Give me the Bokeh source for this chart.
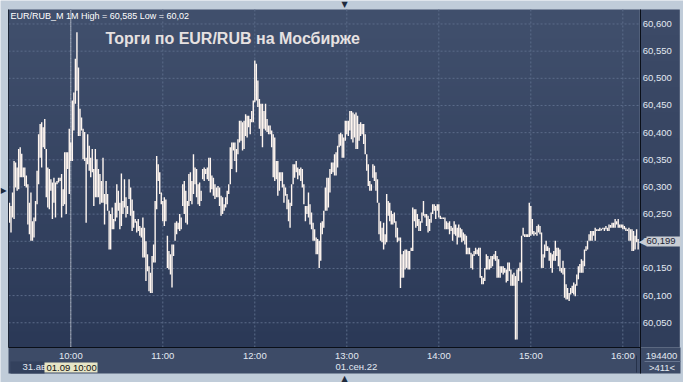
import numpy as np
import pandas as pd
from bokeh.plotting import figure
from bokeh.models import (Range1d, FixedTicker, DatetimeTickFormatter, CustomJSTickFormatter,
                          Label, BoxAnnotation, ColumnDataSource)
from bokeh.embed import file_html
from bokeh.resources import INLINE

# ---------------- data (1-minute bars, EUR/RUB, 01.09.2022) ----------------
start_time = "2022-09-01 09:20"
highs = [
    60.271, 60.265, 60.290, 60.348, 60.345, 60.336, 60.370, 60.373, 60.361, 60.336,
    60.336, 60.321, 60.305, 60.271, 60.290, 60.237, 60.244, 60.274, 60.330, 60.397,
    60.416, 60.419, 60.410, 60.425, 60.370, 60.336, 60.333, 60.314, 60.308, 60.317,
    60.308, 60.311, 60.317, 60.317, 60.324, 60.296, 60.364, 60.364, 60.364, 60.407,
    60.382, 60.459, 60.474, 60.536, 60.585, 60.520, 60.444, 60.428, 60.407, 60.401,
    60.354, 60.397, 60.376, 60.354, 60.370, 60.333, 60.370, 60.351, 60.333, 60.324,
    60.311, 60.354, 60.287, 60.311, 60.287, 60.256, 60.250, 60.262, 60.241, 60.271,
    60.305, 60.293, 60.271, 60.325, 60.274, 60.314, 60.281, 60.265, 60.314, 60.299,
    60.277, 60.256, 60.241, 60.237, 60.241, 60.228, 60.225, 60.244, 60.225, 60.200,
    60.176, 60.154, 60.142, 60.173, 60.194, 60.274, 60.357, 60.342, 60.327, 60.290,
    60.274, 60.281, 60.277, 60.210, 60.182, 60.176, 60.194, 60.194, 60.234, 60.237,
    60.234, 60.250, 60.244, 60.305, 60.311, 60.293, 60.274, 60.324, 60.327, 60.311,
    60.360, 60.336, 60.333, 60.305, 60.308, 60.293, 60.333, 60.336, 60.333, 60.336,
    60.354, 60.354, 60.321, 60.317, 60.305, 60.299, 60.302, 60.299, 60.284, 60.281,
    60.268, 60.281, 60.293, 60.305, 60.373, 60.382, 60.382, 60.382, 60.370, 60.388,
    60.422, 60.422, 60.419, 60.422, 60.434, 60.431, 60.431, 60.425, 60.440, 60.459,
    60.533, 60.527, 60.496, 60.462, 60.453, 60.453, 60.440, 60.453, 60.425, 60.413,
    60.413, 60.404, 60.397, 60.391, 60.348, 60.348, 60.327, 60.327, 60.327, 60.305,
    60.299, 60.287, 60.277, 60.271, 60.305, 60.342, 60.342, 60.348, 60.336, 60.333,
    60.336, 60.333, 60.305, 60.265, 60.265, 60.290, 60.268, 60.253, 60.234, 60.222,
    60.207, 60.204, 60.201, 60.234, 60.237, 60.256, 60.299, 60.317, 60.317, 60.333,
    60.345, 60.345, 60.360, 60.364, 60.376, 60.397, 60.400, 60.397, 60.391, 60.422,
    60.422, 60.422, 60.440, 60.440, 60.437, 60.434, 60.437, 60.431, 60.416, 60.419,
    60.416, 60.416, 60.397, 60.360, 60.342, 60.311, 60.305, 60.342, 60.339, 60.327,
    60.314, 60.271, 60.237, 60.225, 60.234, 60.213, 60.287, 60.274, 60.271, 60.256,
    60.250, 60.253, 60.237, 60.225, 60.207, 60.207, 60.176, 60.182, 60.185, 60.185,
    60.182, 60.182, 60.188, 60.262, 60.259, 60.259, 60.250, 60.241, 60.237, 60.253,
    60.274, 60.250, 60.250, 60.247, 60.241, 60.253, 60.268, 60.268, 60.265, 60.268,
    60.268, 60.247, 60.244, 60.244, 60.244, 60.237, 60.234, 60.237, 60.228, 60.225,
    60.237, 60.231, 60.225, 60.231, 60.225, 60.222, 60.216, 60.213, 60.210, 60.188,
    60.188, 60.179, 60.176, 60.182, 60.188, 60.185, 60.188, 60.188, 60.136, 60.133,
    60.151, 60.176, 60.173, 60.167, 60.173, 60.173, 60.176, 60.182, 60.173, 60.167,
    60.154, 60.154, 60.154, 60.151, 60.148, 60.161, 60.161, 60.148, 60.139, 60.142,
    60.136, 60.148, 60.151, 60.161, 60.210, 60.225, 60.213, 60.213, 60.213, 60.271,
    60.265, 60.241, 60.219, 60.216, 60.228, 60.231, 60.228, 60.216, 60.176, 60.194,
    60.201, 60.191, 60.188, 60.179, 60.176, 60.182, 60.201, 60.188, 60.188, 60.185,
    60.151, 60.164, 60.151, 60.121, 60.114, 60.105, 60.114, 60.118, 60.124, 60.121,
    60.139, 60.154, 60.158, 60.167, 60.164, 60.185, 60.191, 60.201, 60.213, 60.219,
    60.219, 60.219, 60.225, 60.222, 60.222, 60.225, 60.223, 60.225, 60.225, 60.228,
    60.225, 60.231, 60.230, 60.234, 60.234, 60.241, 60.237, 60.241, 60.231, 60.231,
    60.231, 60.228, 60.225, 60.222, 60.225, 60.222, 60.222, 60.219, 60.210, 60.222,
    60.204,
]
lows = [
    60.234, 60.216, 60.244, 60.241, 60.299, 60.293, 60.296, 60.318, 60.318, 60.318,
    60.302, 60.299, 60.231, 60.213, 60.201, 60.201, 60.207, 60.237, 60.268, 60.305,
    60.354, 60.336, 60.373, 60.370, 60.281, 60.262, 60.259, 60.293, 60.241, 60.271,
    60.244, 60.305, 60.308, 60.311, 60.244, 60.265, 60.268, 60.250, 60.333, 60.287,
    60.348, 60.348, 60.404, 60.453, 60.477, 60.394, 60.394, 60.404, 60.351, 60.348,
    60.234, 60.342, 60.330, 60.318, 60.327, 60.265, 60.281, 60.281, 60.281, 60.268,
    60.271, 60.271, 60.231, 60.268, 60.256, 60.185, 60.185, 60.222, 60.222, 60.237,
    60.244, 60.256, 60.222, 60.228, 60.250, 60.262, 60.244, 60.250, 60.278, 60.247,
    60.219, 60.225, 60.234, 60.216, 60.219, 60.210, 60.207, 60.170, 60.170, 60.127,
    60.145, 60.108, 60.105, 60.105, 60.161, 60.161, 60.259, 60.311, 60.287, 60.268,
    60.237, 60.228, 60.237, 60.151, 60.148, 60.139, 60.115, 60.173, 60.201, 60.213,
    60.222, 60.219, 60.222, 60.265, 60.250, 60.234, 60.231, 60.265, 60.274, 60.268,
    60.287, 60.305, 60.281, 60.268, 60.265, 60.274, 60.314, 60.311, 60.324, 60.314,
    60.311, 60.290, 60.296, 60.284, 60.278, 60.281, 60.281, 60.265, 60.247, 60.250,
    60.256, 60.262, 60.268, 60.287, 60.305, 60.333, 60.367, 60.348, 60.327, 60.360,
    60.382, 60.385, 60.367, 60.370, 60.394, 60.391, 60.410, 60.397, 60.419, 60.419,
    60.456, 60.459, 60.447, 60.407, 60.394, 60.373, 60.407, 60.404, 60.401, 60.397,
    60.397, 60.373, 60.318, 60.311, 60.314, 60.284, 60.293, 60.311, 60.299, 60.271,
    60.284, 60.259, 60.237, 60.225, 60.265, 60.305, 60.317, 60.327, 60.314, 60.321,
    60.311, 60.299, 60.268, 60.237, 60.250, 60.244, 60.231, 60.222, 60.201, 60.201,
    60.176, 60.176, 60.151, 60.164, 60.213, 60.225, 60.256, 60.256, 60.262, 60.290,
    60.324, 60.327, 60.321, 60.321, 60.336, 60.373, 60.376, 60.354, 60.354, 60.385,
    60.397, 60.394, 60.404, 60.388, 60.382, 60.391, 60.370, 60.370, 60.385, 60.394,
    60.397, 60.379, 60.360, 60.330, 60.302, 60.293, 60.293, 60.317, 60.311, 60.293,
    60.271, 60.213, 60.201, 60.198, 60.185, 60.194, 60.198, 60.247, 60.237, 60.231,
    60.231, 60.234, 60.207, 60.198, 60.201, 60.114, 60.133, 60.133, 60.148, 60.151,
    60.148, 60.148, 60.182, 60.182, 60.237, 60.225, 60.228, 60.219, 60.219, 60.234,
    60.247, 60.244, 60.228, 60.216, 60.219, 60.234, 60.250, 60.256, 60.241, 60.256,
    60.244, 60.241, 60.241, 60.241, 60.222, 60.222, 60.222, 60.213, 60.219, 60.201,
    60.213, 60.210, 60.194, 60.207, 60.207, 60.198, 60.201, 60.194, 60.176, 60.176,
    60.176, 60.151, 60.148, 60.173, 60.176, 60.176, 60.173, 60.133, 60.121, 60.121,
    60.127, 60.148, 60.148, 60.148, 60.151, 60.154, 60.167, 60.164, 60.133, 60.133,
    60.133, 60.142, 60.139, 60.142, 60.124, 60.127, 60.145, 60.118, 60.118, 60.118,
    60.019, 60.019, 60.127, 60.145, 60.124, 60.210, 60.208, 60.208, 60.208, 60.208,
    60.210, 60.213, 60.210, 60.213, 60.210, 60.216, 60.213, 60.151, 60.151, 60.170,
    60.182, 60.182, 60.164, 60.151, 60.142, 60.164, 60.164, 60.173, 60.154, 60.145,
    60.142, 60.139, 60.096, 60.093, 60.093, 60.090, 60.102, 60.105, 60.102, 60.099,
    60.118, 60.130, 60.142, 60.142, 60.142, 60.154, 60.182, 60.185, 60.201, 60.201,
    60.201, 60.210, 60.201, 60.219, 60.219, 60.219, 60.220, 60.222, 60.219, 60.222,
    60.219, 60.219, 60.225, 60.225, 60.225, 60.225, 60.231, 60.225, 60.225, 60.225,
    60.222, 60.222, 60.219, 60.219, 60.201, 60.201, 60.182, 60.182, 60.185, 60.198,
    60.185,
]
hour_ticks = ["2022-09-01 10:00", "2022-09-01 11:00", "2022-09-01 12:00", "2022-09-01 13:00",
              "2022-09-01 14:00", "2022-09-01 15:00", "2022-09-01 16:00"]
price_ticks = [60.05, 60.10, 60.15, 60.20, 60.25, 60.30, 60.35, 60.40, 60.45, 60.50, 60.55, 60.60]
last_price = "60,199"
header_text = "EUR/RUB_M 1M High = 60,585 Low = 60,02"
title_text = "Торги по EUR/RUB на Мосбирже"
cursor_time = "2022-09-01 10:00"
date_prev, date_cur, cursor_label = "31.авг.22", "01.сен.22", "01.09 10:00"
volume_text, bars_text = "194400", ">411<"

# ---------------------------------------------------------------------------
def ms(s):
    return pd.Timestamp(s).value / 1e6

times = pd.date_range(start_time, periods=len(highs), freq="1min")
src = ColumnDataSource(dict(t=times, high=highs, low=lows))

# chart area limits (data) and whole-canvas limits (data)
cx0, cx1 = ms("2022-09-01 09:19:24"), ms("2022-09-01 16:11:05")
cy0, cy1 = 60.0045, 60.6267
X0, X1 = ms("2022-09-01 09:14:09"), ms("2022-09-01 16:39:35")
Y0, Y1 = 59.94003, 60.64326

FONT = "Liberation Sans"
p = figure(width=683, height=382, output_backend="svg", toolbar_location=None,
           x_axis_type="datetime", y_axis_location="right",
           x_range=Range1d(X0, X1), y_range=Range1d(Y0, Y1),
           min_border_left=0, min_border_right=0, min_border_top=0, min_border_bottom=0,
           border_fill_color="#c0ccd9", background_fill_color="#c0ccd9",
           outline_line_color=None)
p.grid.visible = False

# gradient backgrounds (chart area and price panel)
def gradient(top_c, bot_c, n=340):
    f = np.linspace(0, 1, n)[:, None]
    cols = np.array(bot_c) * (1 - f) + np.array(top_c) * f
    img = np.empty((n, 1), dtype=np.uint32)
    view = img.view(dtype=np.uint8).reshape((n, 1, 4))
    view[:, 0, 0:3] = cols.astype(np.uint8)
    view[:, 0, 3] = 255
    return img

p.image_rgba(image=[gradient((0x41, 0x50, 0x6d), (0x2b, 0x39, 0x57))], x=cx0, y=cy0,
             dw=cx1 - cx0, dh=cy1 - cy0, level="image")
p.image_rgba(image=[gradient((0x3d, 0x4b, 0x68), (0x30, 0x3e, 0x5b))], x=cx1, y=cy0,
             dw=(X1 - X0) * 40 / 683, dh=cy1 - cy0, level="image")

def sbox(left, right, bottom, top, color, level="underlay"):
    p.add_layout(BoxAnnotation(left=left, right=right, bottom=bottom, top=top,
                               left_units="screen", right_units="screen",
                               top_units="screen", bottom_units="screen",
                               fill_color=color, fill_alpha=1, line_alpha=0, level=level))

# bottom time strip (screen units, y measured upward from the canvas bottom)
sbox(8, 680, 9, 35, "#3d4b67")
sbox(10, 44, 9, 21, "#33415d")

# grid lines inside the chart area only
hx = [ms(t) for t in hour_ticks]
p.segment(x0=hx, y0=[cy0] * len(hx), x1=hx, y1=[cy1] * len(hx),
          line_color="#5b6b89", line_dash="2 2", line_width=1)
p.segment(x0=[cx0] * len(price_ticks), y0=price_ticks, x1=[cx1] * len(price_ticks), y1=price_ticks,
          line_color="#5b6b89", line_dash="2 2", line_width=1)

# axes drawn at the edges of the chart area
p.xaxis.fixed_location = cy0
p.yaxis.fixed_location = cx1
p.xaxis.ticker = FixedTicker(ticks=hx)
p.xaxis.formatter = DatetimeTickFormatter(hours="%H:%M", minutes="%H:%M", hourmin="%H:%M")
p.yaxis.ticker = FixedTicker(ticks=price_ticks)
p.yaxis.formatter = CustomJSTickFormatter(code="return tick.toFixed(3).replace('.', ',');")
for ax in (p.xaxis[0], p.yaxis[0]):
    ax.axis_line_color = None
    ax.major_tick_line_color = None
    ax.minor_tick_line_color = None
    ax.major_tick_out = 0
    ax.major_tick_in = 0
    ax.minor_tick_out = 0
    ax.minor_tick_in = 0
    ax.major_label_text_font = FONT
    ax.major_label_text_font_size = "9.5px"
    ax.major_label_text_color = "#e3e9f2"
p.xaxis.major_label_standoff = 3
p.yaxis.major_label_standoff = 3

# bars
p.segment(x0="t", y0="low", x1="t", y1="high", source=src, line_color="#fff6f0", line_width=1.4)

# cursor line (dotted) over the chart area
ct = ms(cursor_time)
p.segment(x0=[ct], y0=[cy0], x1=[ct], y1=[cy1], line_color="#ffffff", line_dash="1 1", line_width=1)

# frame separator lines
sbox(639.5, 640.5, 9, 373, "#0a0f18", level="annotation")
sbox(8, 640, 34.5, 35.5, "#0a0f18", level="annotation")
sbox(644, 680, 20.5, 21.5, "#67758f", level="annotation")
sbox(635.5, 636.5, 10, 27, "#26324a", level="annotation")
sbox(7.5, 8.5, 35, 373, "#1c2536", level="annotation")

def lab(x, y, text, size="9.5px", color="#e3e9f2", bold=False, align="left", base="middle", font=FONT):
    p.add_layout(Label(x=x, y=y, x_units="screen", y_units="screen", text=text, text_font=font,
                       text_font_size=size, text_color=color, text_align=align, text_baseline=base,
                       text_font_style="bold" if bold else "normal"))

# texts: y is the vertical centre, measured upward from the canvas bottom
lab(10, 367, header_text, size="9px", color="#ffffff")
lab(105, 344.5, title_text, size="16px", color="#e6e1e1", bold=True)

# last price tag
sbox(646, 680, 136, 146, "#c9cdd4", level="annotation")
lab(646.5, 141, "◀", size="11px", color="#c9cdd4", align="right", font="DejaVu Sans")
lab(646, 141.5, last_price, color="#1c2433")

# date row
lab(22, 16, date_prev)
sbox(44, 97, 10, 20, "#e7e5c6", level="annotation")
lab(46, 15.5, cursor_label, color="#101010")
lab(335, 16, date_cur)
lab(661, 27, volume_text, align="center")
lab(661.5, 15.5, bars_text, align="center")

# small triangles in the outer frame
lab(344, 378.5, "▼", size="8px", color="#1e2a3c", align="center", font="DejaVu Sans")
lab(344, 4, "▲", size="8px", color="#1e2a3c", align="center", font="DejaVu Sans")
lab(3, 192, "▶", size="8px", color="#1e2a3c", align="center", font="DejaVu Sans")

open("out.html", "w").write(file_html(p, INLINE))
